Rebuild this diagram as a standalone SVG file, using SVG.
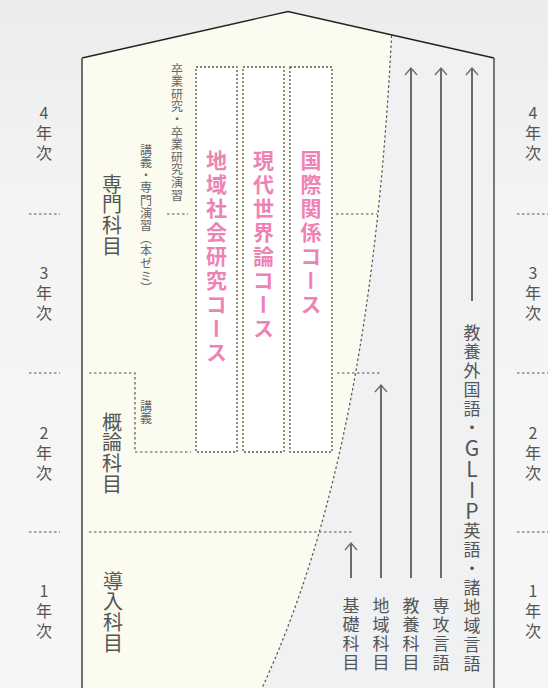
<svg xmlns="http://www.w3.org/2000/svg" width="548" height="688" viewBox="0 0 548 688">
  <defs>
    <linearGradient id="bg" x1="0" y1="0" x2="0" y2="1">
      <stop offset="0" stop-color="#ebecec"/>
      <stop offset="0.3" stop-color="#f4f4f4"/>
      <stop offset="1" stop-color="#f7f7f7"/>
    </linearGradient>
    <marker id="head" markerUnits="userSpaceOnUse" markerWidth="16" markerHeight="16" refX="0" refY="0" viewBox="-8 -8 16 16" orient="auto" overflow="visible">
      <path d="M-7,-6 L0,0 L-7,6" fill="none" stroke="#6a6a6a" stroke-width="1.3"/>
    </marker>
  </defs>
  <style>
    .v { writing-mode: vertical-rl; font-family: "Noto Sans CJK JP", "Noto Sans", sans-serif; }
    .year { font-size: 16px; fill: #555; letter-spacing: 4px; text-orientation: upright; }
    .subj { font-size: 20px; fill: #555; letter-spacing: 0.8px; }
    .small { font-size: 12px; fill: #666; letter-spacing: 0.6px; }
    .course { font-size: 21px; fill: #ef82b5; font-weight: 700; letter-spacing: 3px; }
    .lang { font-size: 17px; fill: #555; letter-spacing: 2px; text-orientation: upright; }
    .dash { fill: none; stroke: #555; stroke-width: 1.2; stroke-dasharray: 2.5 2.5; }
    .box { fill: #ffffff; stroke: #555; stroke-width: 1.3; stroke-dasharray: 2 2; }
    .arrow { fill: none; stroke: #6a6a6a; stroke-width: 2; marker-end: url(#head); }
  </style>

  <rect x="0" y="0" width="548" height="688" fill="url(#bg)"/>

  <g id="house">
    <path d="M82,688 L82,58 L288,11.5 L391.6,35.4 C378,300 340,520 262,688 Z" fill="#fbfbef"/>
    <path d="M391.6,35.4 L494,58 L494,688 L262,688 C340,520 378,300 391.6,35.4 Z" fill="#eff1f3"/>
    <path d="M391.6,35.4 C378,300 340,520 262,688" class="dash"/>
    <path d="M82,58 L288,11.5 L494,58" fill="none" stroke="#222" stroke-width="1.3"/>
    <line x1="82" y1="58" x2="82" y2="688" stroke="#6f6f6f" stroke-width="2"/>
    <line x1="494" y1="58" x2="494" y2="688" stroke="#444" stroke-width="1.4"/>
  </g>

  <g id="dividers">
    <line x1="29" y1="214" x2="60" y2="214" class="dash"/>
    <line x1="29" y1="373" x2="60" y2="373" class="dash"/>
    <line x1="29" y1="532" x2="60" y2="532" class="dash"/>
    <line x1="517" y1="214" x2="548" y2="214" class="dash"/>
    <line x1="517" y1="373" x2="548" y2="373" class="dash"/>
    <line x1="517" y1="532" x2="548" y2="532" class="dash"/>
    <line x1="167" y1="214" x2="188" y2="214" class="dash"/>
    <line x1="336" y1="214" x2="377" y2="214" class="dash"/>
    <path d="M89,373 L135,373 L135,452 L191,452" class="dash"/>
    <line x1="337" y1="373" x2="381" y2="373" class="dash"/>
    <line x1="89" y1="532" x2="352" y2="532" class="dash"/>
  </g>

  <g id="year-left">
    <text class="v year" x="44" y="105">4年次</text>
    <text class="v year" x="44" y="265">3年次</text>
    <text class="v year" x="44" y="425">2年次</text>
    <text class="v year" x="44" y="583">1年次</text>
  </g>
  <g id="year-right">
    <text class="v year" x="533" y="105">4年次</text>
    <text class="v year" x="533" y="265">3年次</text>
    <text class="v year" x="533" y="425">2年次</text>
    <text class="v year" x="533" y="583">1年次</text>
  </g>

  <g id="senmon">
    <text class="v subj" x="112" y="174">専門科目</text>
  </g>
  <g id="sotsugyo">
    <text class="v small" x="177" y="63">卒業研究・卒業研究演習</text>
  </g>
  <g id="kogi-senmon">
    <text class="v small" x="146" y="144">講義・専門演習（本ゼミ）</text>
  </g>
  <g id="gairon">
    <text class="v subj" x="112" y="412">概論科目</text>
  </g>
  <g id="kogi">
    <text class="v small" x="146" y="400">講義</text>
  </g>
  <g id="dounyu">
    <text class="v subj" x="113" y="571">導入科目</text>
  </g>

  <g id="course-chiiki">
    <rect class="box" x="196" y="67" width="41" height="385"/>
    <text class="v course" x="216.5" y="150">地域社会研究コース</text>
  </g>
  <g id="course-gendai">
    <rect class="box" x="243" y="67" width="41" height="385"/>
    <text class="v course" x="263.5" y="150">現代世界論コース</text>
  </g>
  <g id="course-kokusai">
    <rect class="box" x="290" y="67" width="42" height="385"/>
    <text class="v course" x="311" y="150">国際関係コース</text>
  </g>

  <g id="connectors">
    <line class="arrow" x1="351" y1="578" x2="351" y2="543"/>
    <line class="arrow" x1="381" y1="578" x2="381" y2="385"/>
    <line class="arrow" x1="411" y1="578" x2="411" y2="68"/>
    <line class="arrow" x1="441" y1="578" x2="441" y2="68"/>
    <line class="arrow" x1="472" y1="301" x2="472" y2="68"/>
  </g>

  <g id="kiso">
    <text class="v lang" x="351" y="597">基礎科目</text>
  </g>
  <g id="chiiki">
    <text class="v lang" x="381" y="597">地域科目</text>
  </g>
  <g id="kyoyo">
    <text class="v lang" x="411" y="597">教養科目</text>
  </g>
  <g id="senko">
    <text class="v lang" x="441" y="597">専攻言語</text>
  </g>
  <g id="gaikokugo">
    <text class="v lang" x="472" y="324">教養外国語・<tspan font-size="21" letter-spacing="0">GLIP</tspan>英語・諸地域言語</text>
  </g>
</svg>
